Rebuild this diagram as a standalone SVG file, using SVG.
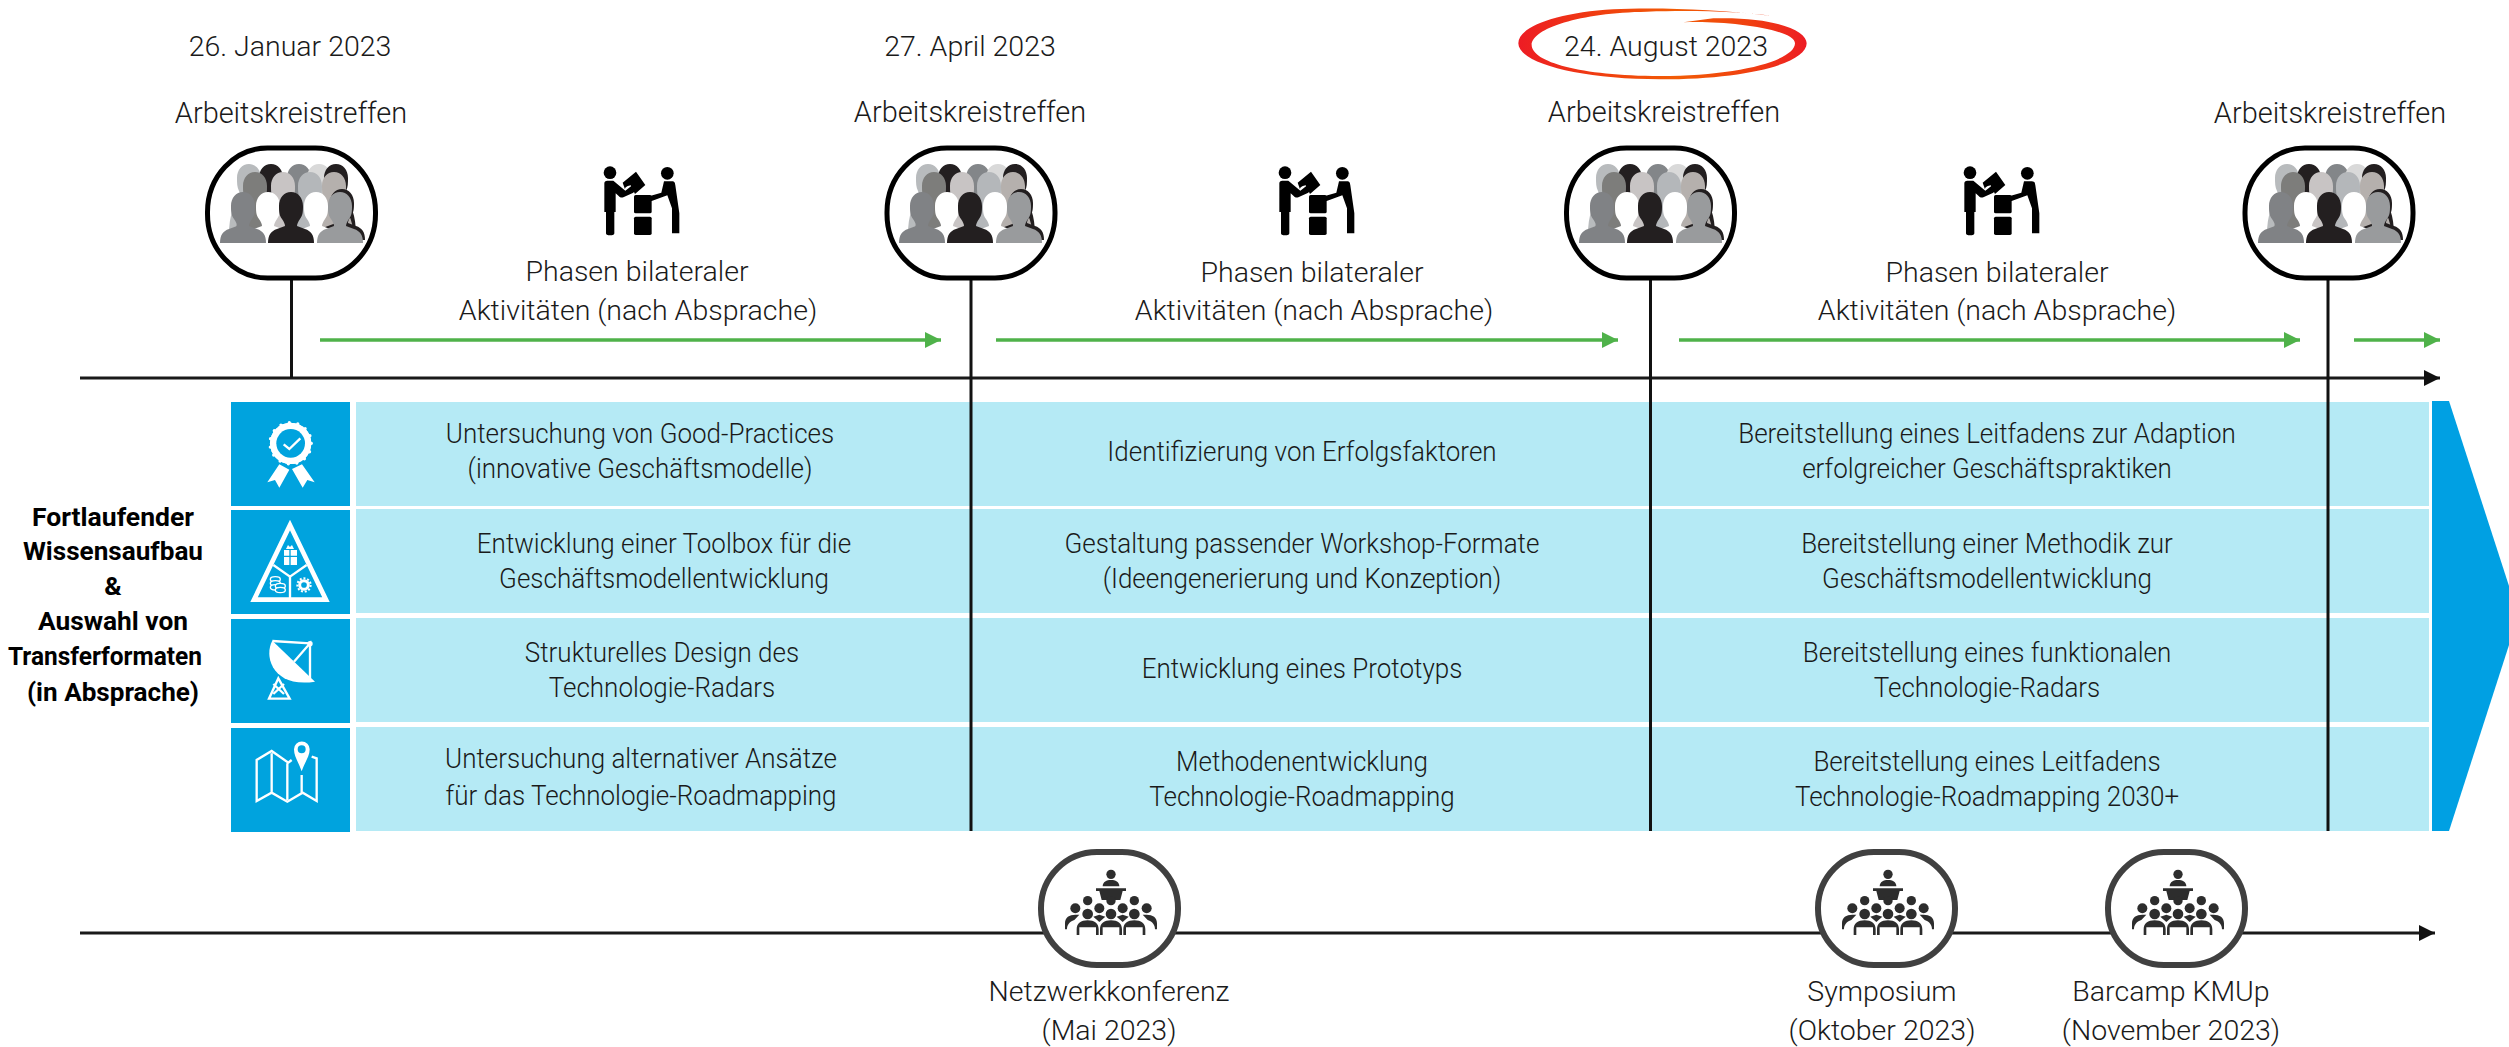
<svg xmlns="http://www.w3.org/2000/svg" width="2509" height="1047" viewBox="0 0 2509 1047">
<style>
text{font-family:Roboto,"Liberation Sans",sans-serif;font-weight:300;font-size:28.500px;fill:#1a1a1a;text-anchor:middle}
.h{font-size:29.500px;transform-box:fill-box;transform-origin:center;transform:scaleX(.98)}
.r{font-size:27.500px;transform-box:fill-box;transform-origin:center;transform:scaleX(.945)}
.b{font-weight:700;font-size:26.500px;fill:#000}
.ax{stroke:#1a1a1a;stroke-width:3;fill:none}
.v{stroke:#111;stroke-width:3;fill:none}
.gr{stroke:#4fb24a;stroke-width:3.5;fill:none}
.band{fill:#b5eaf5}
.tile{fill:#00a3de}
.frame{fill:#fff;stroke:#000;stroke-width:5}
.cframe{fill:#fff;stroke:#404040;stroke-width:6}
.w{fill:#fff}
.ws{fill:none;stroke:#fff;stroke-width:7}
</style>
<defs>
<marker id="ak" markerUnits="userSpaceOnUse" markerWidth="16" markerHeight="16" refX="16" refY="8" orient="auto"><path d="M0,0L16,8L0,16Z" fill="#111"/></marker>
<marker id="ag" markerUnits="userSpaceOnUse" markerWidth="16" markerHeight="16" refX="16" refY="8" orient="auto"><path d="M0,0L16,8L0,16Z" fill="#4fb24a"/></marker>
<linearGradient id="brush" x1="0" x2="1" y1="0" y2="0"><stop offset="0" stop-color="#ed1c24"/><stop offset=".3" stop-color="#f0400f"/><stop offset=".55" stop-color="#f25c05"/><stop offset=".8" stop-color="#f04010"/><stop offset="1" stop-color="#ed1c24"/></linearGradient>
<path id="p" d="M-23,0C-23,-8 -20,-12 -14,-14L-6,-17C-6,-19 -7,-21 -9,-24C-12,-28 -12,-32 -12,-37C-12,-45 -7,-51 0,-51C7,-51 12,-45 12,-37C12,-32 12,-28 9,-24C7,-21 6,-19 6,-17L14,-14C20,-12 23,-8 23,0Z"/>
<path id="q" d="M-20,20C-20,0 -15,-12 -8,-16C-8,-19 -9,-21 -10,-24C-12,-28 -12,-32 -12,-37C-12,-45 -7,-51 0,-51C7,-51 12,-45 12,-37C12,-32 12,-28 10,-24C9,-21 8,-19 8,-16C15,-12 20,0 20,20Z"/>
<g id="people">
<use href="#q" transform="translate(-42,215)" fill="#b8bbbd"/>
<use href="#q" transform="translate(-20,215)" fill="#231f20"/>
<use href="#q" transform="translate(8,215)" fill="#838689"/>
<use href="#q" transform="translate(28,215)" fill="#d9d9d9"/>
<use href="#q" transform="translate(45,215)" fill="#231f20"/>
<use href="#q" transform="translate(-36,223)" fill="#7d7d7b"/>
<use href="#q" transform="translate(-8,223)" fill="#c8c4c4"/>
<use href="#q" transform="translate(19,223)" fill="#b4b7ba"/>
<use href="#q" transform="translate(43,223)" fill="#b5b0ad"/>
<use href="#p" transform="translate(51,240)" fill="#231f20"/>
<use href="#p" transform="translate(-23,243)" fill="#fff"/>
<use href="#p" transform="translate(25,243)" fill="#fff"/>
<use href="#p" transform="translate(-48,243)" fill="#808285"/>
<use href="#p" transform="translate(49,243)" fill="#999b9d"/>
<use href="#p" transform="translate(0,243)" fill="#231f20"/>
</g>
<g id="handover"><g transform="scale(.33333)" fill="#000">
<circle cx="150" cy="68" r="19"/><circle cx="322" cy="70" r="19"/>
<path d="M133,100Q133,92 142,92H160L196,122L214,108C222,104 228,122 220,128L190,142C184,144 180,142 176,138L167,130V186H163V250Q163,256 150,256Q138,256 138,250V186H133Z"/>
<path d="M312,94H335C345,94 345,100 346,106L358,190V250H336V175L322,136L275,153C265,155 262,142 270,138L304,128Z"/>
<path d="M188,98L228,65L256,105L225,132L212,106C205,108 195,110 195,118Z"/>
<rect x="222" y="135" width="53" height="55" rx="5"/><rect x="222" y="200" width="53" height="55" rx="5"/>
</g></g>
<g id="conf"><g transform="scale(.33333) translate(-275,0)" fill="#2d2d2d">
<circle cx="275" cy="103" r="14"/>
<path d="M250,139C250,125 262,120 275,120C288,120 300,125 300,139Z"/>
<path d="M230,145H320V153H310L303,180H247L240,153H230Z"/>
<circle cx="205" cy="182" r="14"/><circle cx="275" cy="182" r="14"/><circle cx="345" cy="182" r="14"/>
<circle cx="168" cy="205" r="15"/><circle cx="240" cy="205" r="15"/><circle cx="310" cy="205" r="15"/><circle cx="382" cy="205" r="15"/>
<circle cx="205" cy="222" r="16"/><circle cx="275" cy="222" r="16"/><circle cx="345" cy="222" r="16"/>
<path d="M137,268V250C137,232 150,224 168,224H180L165,240C150,245 143,255 143,268Z"/>
<path d="M413,268V250C413,232 400,224 382,224H370L385,240C400,245 407,255 407,268Z"/>
<path d="M222,230L240,224L258,230L240,246Z"/><path d="M292,230L310,224L328,230L310,246Z"/>
<path d="M172,285V268C172,250 185,241 205,241C225,241 238,250 238,268V285H230V262H180V285Z"/>
<path d="M242,285V268C242,250 255,241 275,241C295,241 308,250 308,268V285H300V262H250V285Z"/>
<path d="M312,285V268C312,250 325,241 345,241C365,241 378,250 378,268V285H370V262H320V285Z"/>
</g></g>
</defs>

<g id="band">
<rect class="band" x="356" y="402" width="2073" height="104"/>
<rect class="band" x="356" y="509" width="2073" height="104"/>
<rect class="band" x="356" y="618" width="2073" height="104"/>
<rect class="band" x="356" y="727" width="2073" height="104"/>
<polygon points="2432,401 2449,401 2509,586 2509,645 2449,831 2432,831" fill="#00a0e3"/>
</g>

<g id="connectors">
<line class="ax" x1="80" y1="378" x2="2440" y2="378" marker-end="url(#ak)"/>
<line class="ax" x1="80" y1="933" x2="2435" y2="933" marker-end="url(#ak)"/>
<line class="v" x1="291.5" y1="278" x2="291.5" y2="378"/>
<line class="v" x1="971" y1="278" x2="971" y2="831"/>
<line class="v" x1="1650.500" y1="278" x2="1650.500" y2="831"/>
<line class="v" x1="2328" y1="278" x2="2328" y2="831"/>
<line class="gr" x1="320" y1="340" x2="941" y2="340" marker-end="url(#ag)"/>
<line class="gr" x1="996" y1="340" x2="1618" y2="340" marker-end="url(#ag)"/>
<line class="gr" x1="1679" y1="340" x2="2300" y2="340" marker-end="url(#ag)"/>
<line class="gr" x1="2354" y1="340" x2="2440" y2="340" marker-end="url(#ag)"/>
</g>

<g id="date-1"><text x="290" y="56">26. Januar 2023</text></g>
<g id="date-2"><text x="970" y="56">27. April 2023</text></g>
<g id="date-3">
<path transform="translate(1480,0) scale(.33333)" fill="url(#brush)" d="M870,47C700,25 500,22 400,28C230,38 115,80 115,130C115,190 300,238 540,238C800,238 980,190 980,130C980,90 880,50 700,55L610,67C720,60 945,85 945,130C945,180 780,228 540,228C300,228 155,185 155,135C155,85 300,38 500,35C650,30 780,35 870,47Z"/>
<text x="1666" y="56">24. August 2023</text>
</g>

<g id="meeting-1"><text class="h" x="291" y="123">Arbeitskreistreffen</text><rect class="frame" x="207.500" y="148" width="168" height="130" rx="60" ry="64"/><use href="#people" transform="translate(291,0)"/></g>
<g id="meeting-2"><text class="h" x="970" y="122">Arbeitskreistreffen</text><rect class="frame" x="887" y="148" width="168" height="130" rx="60" ry="64"/><use href="#people" transform="translate(970,0)"/></g>
<g id="meeting-3"><text class="h" x="1664" y="122">Arbeitskreistreffen</text><rect class="frame" x="1566.500" y="148" width="168" height="130" rx="60" ry="64"/><use href="#people" transform="translate(1650,0)"/></g>
<g id="meeting-4"><text class="h" x="2330" y="123">Arbeitskreistreffen</text><rect class="frame" x="2245" y="148" width="168" height="130" rx="60" ry="64"/><use href="#people" transform="translate(2329,0)"/></g>

<g id="phase-1"><use href="#handover" transform="translate(560,150)"/><text x="637" y="281">Phasen bilateraler</text><text x="638" y="320">Aktivitäten (nach Absprache)</text></g>
<g id="phase-2"><use href="#handover" transform="translate(1235,150)"/><text x="1312" y="282">Phasen bilateraler</text><text x="1314" y="320">Aktivitäten (nach Absprache)</text></g>
<g id="phase-3"><use href="#handover" transform="translate(1920,150)"/><text x="1997" y="282">Phasen bilateraler</text><text x="1997" y="320">Aktivitäten (nach Absprache)</text></g>

<g id="left-label">
<text class="b" x="113" y="526" textLength="162" lengthAdjust="spacingAndGlyphs">Fortlaufender</text>
<text class="b" x="113" y="560" textLength="180" lengthAdjust="spacingAndGlyphs">Wissensaufbau</text>
<text class="b" x="113" y="595">&amp;</text>
<text class="b" x="113" y="630" textLength="150" lengthAdjust="spacingAndGlyphs">Auswahl von</text>
<text class="b" x="105" y="665" textLength="194" lengthAdjust="spacingAndGlyphs">Transferformaten</text>
<text class="b" x="113" y="701" textLength="172" lengthAdjust="spacingAndGlyphs">(in Absprache)</text>
</g>

<g id="tile-1"><rect class="tile" x="231" y="402" width="119" height="104"/>
<g transform="translate(220,395) scale(.33333)"><circle cx="212" cy="145" r="62" class="w" stroke="#fff" stroke-width="10" stroke-dasharray="0 26" stroke-linecap="round"/><circle cx="212" cy="145" r="62" class="w"/><circle cx="212" cy="145" r="43" fill="#00a3de"/><polyline points="191,148 208,162 241,130" class="ws"/><polygon class="w" points="178,208 208,224 178,278 165,255 142,262"/><polygon class="w" points="246,208 216,222 248,278 262,255 284,262"/></g></g>

<g id="tile-2"><rect class="tile" x="231" y="510" width="119" height="104"/>
<g transform="translate(220,395) scale(.33333)"><polygon points="210,390 102,614 318,614" fill="none" stroke="#fff" stroke-width="14"/><polyline class="ws" points="160,510 210,545 260,510"/><line class="ws" x1="210" y1="545" x2="210" y2="610"/><rect class="w" x="192" y="465" width="39" height="45"/><path d="M210,465V510M192,484H231" stroke="#00a3de" stroke-width="4"/><path class="w" d="M198,462L204,450L210,456L216,450L222,462Z"/><g stroke="#fff" stroke-width="4" fill="#00a3de"><ellipse cx="166" cy="553" rx="15" ry="8"/><ellipse cx="166" cy="565" rx="15" ry="8"/><ellipse cx="166" cy="577" rx="15" ry="8"/><ellipse cx="181" cy="573" rx="15" ry="8"/><ellipse cx="181" cy="585" rx="15" ry="8"/></g><circle cx="252" cy="570" r="13" fill="none" stroke="#fff" stroke-width="9"/><circle cx="252" cy="570" r="20" fill="none" stroke="#fff" stroke-width="6" stroke-dasharray="6 5.500"/></g></g>

<g id="tile-3"><rect class="tile" x="231" y="619" width="119" height="104"/>
<g transform="translate(220,610) scale(.33333)"><path class="w" d="M157,92C130,140 160,235 285,215Z"/><circle class="w" cx="270" cy="101" r="8"/><path class="ws" d="M157,93L270,100M222,155L270,100V205"/><path d="M175,205L147,266H209Z M160,252L192,222 M192,252L160,222" class="ws"/></g></g>

<g id="tile-4"><rect class="tile" x="231" y="728" width="119" height="104"/>
<g transform="translate(220,610) scale(.33333)"><path class="ws" d="M215,450L205,458L155,423L110,450V573L155,548L202,575L248,548L290,573V445L275,440M155,430V545M202,460V570M245,495V548"/><path class="w" fill-rule="evenodd" d="M245,484C235,455 222,440 222,418A23,23 0 1 1 269,418C269,440 255,455 245,484ZM245,406A12,12 0 1 0 245,430A12,12 0 1 0 245,406Z"/></g></g>

<g id="row-1"><text class="r" x="640" y="443">Untersuchung von Good-Practices</text><text class="r" x="640" y="478">(innovative Geschäftsmodelle)</text><text class="r" x="1302" y="461">Identifizierung von Erfolgsfaktoren</text><text class="r" x="1987" y="443">Bereitstellung eines Leitfadens zur Adaption</text><text class="r" x="1987" y="478">erfolgreicher Geschäftspraktiken</text></g>
<g id="row-2"><text class="r" x="664" y="553">Entwicklung einer Toolbox für die</text><text class="r" x="664" y="588">Geschäftsmodellentwicklung</text><text class="r" x="1302" y="553">Gestaltung passender Workshop-Formate</text><text class="r" x="1302" y="588">(Ideengenerierung und Konzeption)</text><text class="r" x="1987" y="553">Bereitstellung einer Methodik zur</text><text class="r" x="1987" y="588">Geschäftsmodellentwicklung</text></g>
<g id="row-3"><text class="r" x="662" y="662">Strukturelles Design des</text><text class="r" x="662" y="697">Technologie-Radars</text><text class="r" x="1302" y="678">Entwicklung eines Prototyps</text><text class="r" x="1987" y="662">Bereitstellung eines funktionalen</text><text class="r" x="1987" y="697">Technologie-Radars</text></g>
<g id="row-4"><text class="r" x="641" y="768">Untersuchung alternativer Ansätze</text><text class="r" x="641" y="805">für das Technologie-Roadmapping</text><text class="r" x="1302" y="771">Methodenentwicklung</text><text class="r" x="1302" y="806">Technologie-Roadmapping</text><text class="r" x="1987" y="771">Bereitstellung eines Leitfadens</text><text class="r" x="1987" y="806">Technologie-Roadmapping 2030+</text></g>

<g id="event-1"><rect class="cframe" x="1041" y="852" width="137" height="113" rx="56"/><use href="#conf" transform="translate(1111,840)"/><text x="1109" y="1001">Netzwerkkonferenz</text><text x="1109" y="1040">(Mai 2023)</text></g>
<g id="event-2"><rect class="cframe" x="1818" y="852" width="137" height="113" rx="56"/><use href="#conf" transform="translate(1888,840)"/><text x="1882" y="1001">Symposium</text><text x="1882" y="1040">(Oktober 2023)</text></g>
<g id="event-3"><rect class="cframe" x="2108" y="852" width="137" height="113" rx="56"/><use href="#conf" transform="translate(2178,840)"/><text x="2171" y="1001">Barcamp KMUp</text><text x="2171" y="1040">(November 2023)</text></g>
</svg>
